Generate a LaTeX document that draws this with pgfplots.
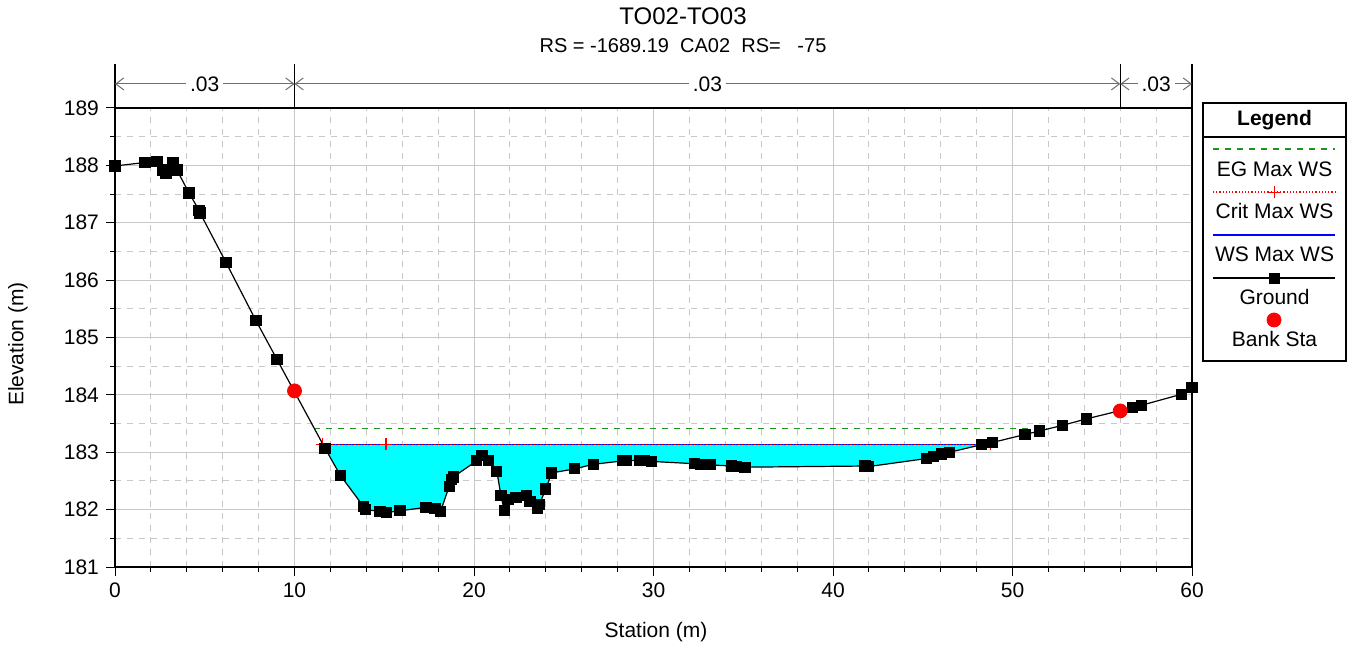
\documentclass[border=0pt]{standalone}
\usepackage{fontspec}
\setmainfont{Liberation Sans}
\usepackage{pgfplots}
\pgfplotsset{compat=1.18}
\usetikzlibrary{arrows.meta,calc}

\definecolor{gridgray}{RGB}{200,200,200}
\definecolor{eggreen}{RGB}{30,150,30}
\definecolor{water}{RGB}{0,255,255}
\definecolor{arrowgray}{RGB}{110,110,110}

\begin{document}
\begin{tikzpicture}[font=\fontsize{10.5}{12.6}\selectfont]
\begin{axis}[
  name=main,
  scale only axis,
  width=538.5pt, height=229.5pt,
  xmin=0, xmax=60, ymin=181, ymax=189,
  xtick={0,10,...,60}, ytick={181,...,189},
  minor x tick num=4, minor y tick num=1,
  grid=both,
  major grid style={gridgray, line width=0.5pt},
  minor grid style={gridgray, dashed, line width=0.5pt},
  tick align=outside, xtick pos=bottom, ytick pos=left,
  major tick length=4.5pt, minor tick length=2.5pt,
  tick style={black, line width=0.5pt},
  axis line style={line width=0.7pt},
  /pgf/number format/assume math mode=true,
  ticklabel style={font=\fontsize{10.5}{12}\selectfont},
  clip=false,
]
% water area
\addplot[fill=water, draw=none] coordinates {
  (11.58,183.14) (11.7,183.07) (12.55,182.60) (13.83,182.06) (13.95,182.00)
  (14.76,181.97) (15.13,181.95) (15.88,181.98) (17.33,182.04) (17.83,182.02)
  (18.14,181.97) (18.62,182.41) (18.75,182.52) (18.85,182.57) (20.15,182.85)
  (20.45,182.94) (20.8,182.85) (21.27,182.67) (21.5,182.25) (21.68,181.99)
  (21.9,182.17) (22.34,182.21) (22.93,182.25) (23.12,182.14) (23.53,182.03)
  (23.64,182.09) (24.0,182.36) (24.33,182.64) (25.6,182.71) (26.65,182.79)
  (28.3,182.85) (28.5,182.85) (29.25,182.86) (29.5,182.85) (29.9,182.84)
  (32.3,182.80) (32.6,182.79) (33.15,182.78) (34.35,182.76) (34.63,182.75)
  (35.1,182.74) (41.78,182.76) (41.97,182.75) (45.2,182.89) (45.6,182.93)
  (46.05,182.97) (46.5,183.0) (48.25,183.13) (48.45,183.14)
} -- cycle;
% EG
\addplot[eggreen, dashed, line width=0.6pt] coordinates {(11.1,183.42) (51.9,183.42)};
% WS
\addplot[blue, line width=0.6pt] coordinates {(11.58,183.14) (48.45,183.14)};
% Crit
\addplot[red, densely dotted, line width=0.6pt, mark=+, mark size=3pt, mark options={solid}]
  coordinates {(11.55,183.14) (15.1,183.14) (48.78,183.14)};
% Ground
\addplot[black, line width=0.6pt, mark=square*, mark size=2.5pt] coordinates {
  (0,187.99) (1.67,188.05) (2.34,188.07) (2.67,187.92) (2.84,187.86)
  (3.23,188.05) (3.45,187.92) (4.12,187.52) (4.68,187.22) (4.74,187.17)
  (6.18,186.31) (7.86,185.29) (9.02,184.62)
  (11.7,183.07) (12.55,182.60) (13.83,182.06) (13.95,182.00)
  (14.76,181.97) (15.13,181.95) (15.88,181.98) (17.33,182.04) (17.83,182.02)
  (18.14,181.97) (18.62,182.41) (18.75,182.52) (18.85,182.57) (20.15,182.85)
  (20.45,182.94) (20.8,182.85) (21.27,182.67) (21.5,182.25) (21.68,181.99)
  (21.9,182.17) (22.34,182.21) (22.93,182.25) (23.12,182.14) (23.53,182.03)
  (23.64,182.09) (24.0,182.36) (24.33,182.64) (25.6,182.71) (26.65,182.79)
  (28.3,182.85) (28.5,182.85) (29.25,182.86) (29.5,182.85) (29.9,182.84)
  (32.3,182.80) (32.6,182.79) (33.15,182.78) (34.35,182.76) (34.63,182.75)
  (35.1,182.74) (41.78,182.76) (41.97,182.75) (45.2,182.89) (45.6,182.93)
  (46.05,182.97) (46.5,183.0) (48.25,183.13) (48.88,183.17)
  (50.7,183.31) (51.5,183.37) (52.8,183.47) (54.1,183.58)
  (56.7,183.78) (57.2,183.82) (59.4,184.01) (60.0,184.13)
};
% Bank stations
\addplot[only marks, red, mark=*, mark size=3.5pt] coordinates {(10,184.07) (56,183.72)};

% Manning's n regions
\draw[line width=0.6pt] (axis cs:0,189) -- (axis cs:0,189.77);
\draw[line width=0.6pt] (axis cs:10,189) -- (axis cs:10,189.77);
\draw[line width=0.6pt] (axis cs:56,189) -- (axis cs:56,189.77);
\draw[line width=0.6pt] (axis cs:60,189) -- (axis cs:60,189.77);
\draw[arrowgray, line width=0.5pt, {Straight Barb[length=4pt,width=6pt]}-{Straight Barb[length=4pt,width=6pt]}]
  (axis cs:0,189.42) -- node[fill=white, inner sep=2pt, text=black] {.03} (axis cs:10,189.42);
\draw[arrowgray, line width=0.5pt, {Straight Barb[length=4pt,width=6pt]}-{Straight Barb[length=4pt,width=6pt]}]
  (axis cs:10,189.42) -- node[fill=white, inner sep=2pt, text=black] {.03} (axis cs:56,189.42);
\draw[arrowgray, line width=0.5pt, {Straight Barb[length=4pt,width=6pt]}-{Straight Barb[length=4pt,width=6pt]}]
  (axis cs:56,189.42) -- node[fill=white, inner sep=2pt, text=black] {.03} (axis cs:60,189.42);
\end{axis}

% Legend
\begin{axis}[
  at={($(main.south west)+(544pt,103pt)$)}, anchor=south west,
  scale only axis,
  width=71.5pt, height=129pt,
  xmin=1203, xmax=1346, ymin=103, ymax=361, y dir=reverse,
  xtick=\empty, ytick=\empty,
  axis line style={line width=0.6pt},
  clip=false,
]
\addplot[eggreen, dashed, line width=0.6pt] coordinates {(1213,149) (1335,149)};
\addplot[red, densely dotted, line width=0.6pt] coordinates {(1213,192) (1335,192)};
\addplot[red, only marks, mark=+, mark size=3pt] coordinates {(1274,192)};
\addplot[blue, line width=0.6pt] coordinates {(1213,235) (1335,235)};
\addplot[black, line width=0.6pt] coordinates {(1213,278) (1335,278)};
\addplot[black, only marks, mark=square*, mark size=2.5pt] coordinates {(1274,278)};
\addplot[red, only marks, mark=*, mark size=3.5pt] coordinates {(1274,320)};
\draw[line width=0.6pt] (axis cs:1203,137) -- (axis cs:1346,137);
\node at (axis cs:1274.5,120) {\bfseries Legend};
\node at (axis cs:1274.5,169) {EG Max WS};
\node at (axis cs:1274.5,211) {Crit Max WS};
\node at (axis cs:1274.5,254) {WS Max WS};
\node at (axis cs:1274.5,297) {Ground};
\node at (axis cs:1274.5,339) {Bank Sta};
\end{axis}

% Titles and axis labels
\node at ($(main.south west)+(284pt,275.5pt)$) {\fontsize{12}{14}\selectfont TO02-TO03};
\node at ($(main.south west)+(284pt,260.5pt)$) {\fontsize{10}{12}\selectfont RS = -1689.19\ \ CA02\ \ RS=\ \ \ -75};
\node at ($(main.south west)+(270.5pt,-32.5pt)$) {Station (m)};
\node[rotate=90] at ($(main.south west)+(-48.5pt,111.5pt)$) {Elevation (m)};

\pgfresetboundingbox
\path[use as bounding box] ($(main.south west)+(-57.5pt,-42.5pt)$) rectangle ($(main.north east)+(82pt,54pt)$);
\end{tikzpicture}
\end{document}
